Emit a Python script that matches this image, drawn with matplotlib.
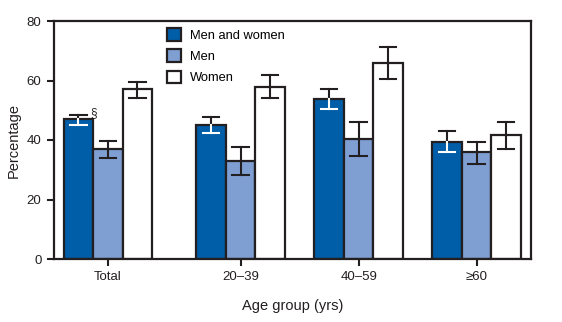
import numpy as np
import matplotlib.pyplot as plt

groups = ['Total', '20\u201339', '40\u201359', '\u226560']
series = ['Men and women', 'Men', 'Women']
values = {
    'Men and women': [47.0, 45.2, 53.9, 39.3],
    'Men': [37.1, 32.9, 40.4, 36.1],
    'Women': [57.0, 57.9, 66.0, 41.8],
}
err_low = {
    'Men and women': [45.0, 42.5, 50.5, 36.0],
    'Men': [34.1, 28.3, 34.6, 32.0],
    'Women': [54.2, 54.1, 60.5, 37.1],
}
err_high = {
    'Men and women': [48.4, 47.8, 57.3, 43.0],
    'Men': [39.8, 37.7, 46.1, 39.3],
    'Women': [59.6, 62.0, 71.4, 46.2],
}
colors = ['#005DA8', '#7F9FD2', '#FFFFFF']

plt.rcParams['font.family'] = ['Liberation Sans', 'DejaVu Sans']

fig = plt.figure(figsize=(5.62, 3.22), dpi=100)
ax = fig.add_axes([54 / 562, 1 - 259 / 322, 477 / 562, 238 / 322])

centers = np.array([0, 4.5, 8.5, 12.5])
w = 1.0
cap = 0.28
for i, s in enumerate(series):
    xs = centers + (i - 1) * w
    v = np.array(values[s])
    lo = np.array(err_low[s])
    hi = np.array(err_high[s])
    ax.bar(xs, v, width=w, color=colors[i], edgecolor='#231F20',
           linewidth=1.6, label=s, zorder=2)
    for x, val, l, h in zip(xs, v, lo, hi):
        # part above the bar top in black, inside dark bar in white
        inner = 'white' if i == 0 else '#231F20'
        ax.plot([x, x], [val, h], color='#231F20', lw=1.5, zorder=3)
        ax.plot([x - cap, x + cap], [h, h], color='#231F20', lw=1.5, zorder=3)
        ax.plot([x, x], [l, val], color=inner, lw=1.5, zorder=3)
        ax.plot([x - cap, x + cap], [l, l], color=inner, lw=1.5, zorder=3)

ax.text(centers[0] - w + 0.4, err_high['Men and women'][0] - 0.5, '\u00a7',
        fontsize=8.5, color='#231F20', zorder=4)

ax.set_xlim(-1.83, 14.34)
ax.set_ylim(0, 80)
ax.set_yticks([0, 20, 40, 60, 80])
ax.set_xticks(centers)
ax.set_xticklabels(groups)
for sp in ax.spines.values():
    sp.set_linewidth(1.6)
    sp.set_color('#231F20')
ax.tick_params(axis='both', direction='out', length=5, width=1.5,
               color='#231F20', labelsize=9.5, labelcolor='#231F20', pad=4)
ax.set_ylabel('Percentage', fontsize=10.5, color='#231F20', labelpad=4)
ax.set_xlabel('Age group (yrs)', fontsize=10.5, color='#231F20', labelpad=11)

ax.legend(loc='upper left', bbox_to_anchor=(0.236, 0.97), frameon=False,
          fontsize=9.3, handlelength=1.1, handleheight=1.1,
          labelspacing=0.6, handletextpad=0.7, borderaxespad=0,
          borderpad=0)

fig.savefig('out.png', dpi=100)
